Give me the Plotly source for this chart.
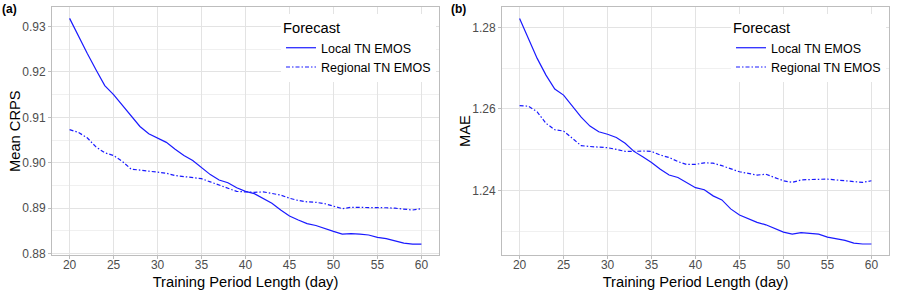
import plotly.graph_objects as go

days = list(range(20, 61))

crps_local = [0.9318, 0.9278, 0.9241, 0.9205, 0.9170, 0.9150, 0.9126, 0.9104, 0.9080, 0.9064,
              0.9055, 0.9045, 0.9030, 0.9016, 0.9005, 0.8989, 0.8974, 0.8962, 0.8956, 0.8945,
              0.8937, 0.8932, 0.8921, 0.8911, 0.8896, 0.8883, 0.8874, 0.8866, 0.8862, 0.8855,
              0.8849, 0.8843, 0.8844, 0.8843, 0.8841, 0.8836, 0.8833, 0.8828, 0.8823, 0.8821,
              0.8821]
crps_regional = [0.9073, 0.9067, 0.9055, 0.9035, 0.9022, 0.9016, 0.9003, 0.8986, 0.8984, 0.8982,
                 0.8979, 0.8977, 0.8972, 0.8970, 0.8968, 0.8965, 0.8958, 0.8951, 0.8944, 0.8937,
                 0.8936, 0.8935, 0.8936, 0.8933, 0.8929, 0.8922, 0.8917, 0.8914, 0.8913, 0.8910,
                 0.8905, 0.8899, 0.8902, 0.8902, 0.8902, 0.8902, 0.8901, 0.8900, 0.8898, 0.8896,
                 0.8899]

mae_local = [1.2822, 1.2773, 1.2724, 1.2683, 1.2649, 1.2634, 1.2606, 1.2580, 1.2558, 1.2544,
             1.2538, 1.2530, 1.2516, 1.2496, 1.2483, 1.2469, 1.2452, 1.2438, 1.2432, 1.2420,
             1.2407, 1.2402, 1.2387, 1.2377, 1.2355, 1.2340, 1.2331, 1.2322, 1.2316, 1.2306,
             1.2298, 1.2293, 1.2297, 1.2295, 1.2293, 1.2286, 1.2282, 1.2278, 1.2271, 1.2269,
             1.2269]
mae_regional = [1.2608, 1.2607, 1.2593, 1.2565, 1.2549, 1.2546, 1.2528, 1.2510, 1.2508, 1.2507,
                1.2505, 1.2501, 1.2496, 1.2496, 1.2497, 1.2496, 1.2487, 1.2481, 1.2471, 1.2464,
                1.2464, 1.2468, 1.2467, 1.2461, 1.2453, 1.2446, 1.2442, 1.2438, 1.2440, 1.2432,
                1.2424, 1.2420, 1.2426, 1.2427, 1.2427, 1.2428, 1.2426, 1.2424, 1.2421, 1.2420,
                1.2424]

series_names = ["Local TN EMOS", "Regional TN EMOS"]
x_ticks = [20, 25, 30, 35, 40, 45, 50, 55, 60]

FONT = "Liberation Sans, Arial, Helvetica, sans-serif"
BLUE = "#1a1aff"
DASHES = ["solid", "4px,2px,1.5px,2px"]

fig = go.Figure()

panels = [
    ("x", "y", "legend", [crps_local, crps_regional]),
    ("x2", "y2", "legend2", [mae_local, mae_regional]),
]
for xa, ya, lg, series in panels:
    for name, vals, dash in zip(series_names, series, DASHES):
        fig.add_trace(go.Scatter(
            x=days, y=vals, mode="lines", name=name,
            line=dict(color=BLUE, width=1.2, dash=dash),
            xaxis=xa, yaxis=ya, legend=lg, showlegend=True,
        ))

grid_major = "#e3e3e3"
grid_minor = "#f0f0f0"
border = "#bdbdbd"
tick_font = dict(family=FONT, size=12, color="#4d4d4d")
title_font = dict(family=FONT, size=14.7, color="#000000")

def xaxis_cfg(domain, anchor):
    return dict(
        domain=domain, anchor=anchor, range=[18, 62], automargin=False,
        tickmode="array", tickvals=x_ticks,
        showgrid=True, gridcolor=grid_major, gridwidth=1,
        showline=True, linecolor=border, linewidth=1, mirror=True,
        ticks="outside", ticklen=3, tickcolor=border, ticklabelstandoff=-4,
        tickfont=tick_font, zeroline=False,
        title=dict(text="Training Period Length (day)", font=title_font, standoff=5),
    )

def yaxis_cfg(domain, anchor, rng, dtick, minor_dtick, fmt):
    return dict(
        domain=domain, anchor=anchor, range=rng, automargin=False,
        dtick=dtick, tick0=0, tickformat=fmt,
        showgrid=True, gridcolor=grid_major, gridwidth=1,
        minor=dict(dtick=minor_dtick, tick0=0, showgrid=True, gridcolor=grid_minor, gridwidth=1),
        showline=True, linecolor=border, linewidth=1, mirror=True,
        ticks="outside", ticklen=3, tickcolor=border,
        tickfont=tick_font, zeroline=False,
    )

ydom = [40 / 295, 288 / 295]
ymid = (ydom[0] + ydom[1]) / 2
legend_common = dict(
    yanchor="top", xanchor="right", y=1 - 14 / 295,
    bgcolor="white", borderwidth=0,
    title=dict(text="Forecast", font=dict(family=FONT, size=14.7, color="#000")),
    font=dict(family=FONT, size=12.5, color="#000"),
    tracegroupgap=0,
)
fig.update_layout(
    width=899, height=295,
    margin=dict(l=0, r=0, t=0, b=0),
    paper_bgcolor="white", plot_bgcolor="white",
    font=dict(family=FONT),
    xaxis=xaxis_cfg([52 / 899, 439 / 899], "y"),
    yaxis=yaxis_cfg(ydom, "x", [0.8797, 0.9343], 0.01, 0.005, ".2f"),
    xaxis2=xaxis_cfg([502 / 899, 889 / 899], "y2"),
    yaxis2=yaxis_cfg(ydom, "x2", [1.2242, 1.2850], 0.02, 0.01, ".2f"),
    legend=dict(legend_common, x=436 / 899),
    legend2=dict(legend_common, x=886 / 899),
    annotations=[
        dict(text="<b>(a)</b>", x=0, y=1, xref="paper", yref="paper",
             xanchor="left", yanchor="top", showarrow=False,
             font=dict(family=FONT, size=12, color="#000")),
        dict(text="<b>(b)</b>", x=449 / 899, y=1, xref="paper", yref="paper",
             xanchor="left", yanchor="top", showarrow=False,
             font=dict(family=FONT, size=12, color="#000")),
        dict(text="Mean CRPS", x=15 / 899, y=ymid, xref="paper", yref="paper",
             xanchor="center", yanchor="middle", textangle=-90, showarrow=False,
             font=title_font),
        dict(text="MAE", x=465 / 899, y=ymid, xref="paper", yref="paper",
             xanchor="center", yanchor="middle", textangle=-90, showarrow=False,
             font=title_font),
    ],
)

fig.write_html("out.html", config={"displayModeBar": False},
               post_script="document.body.style.margin='0';")
